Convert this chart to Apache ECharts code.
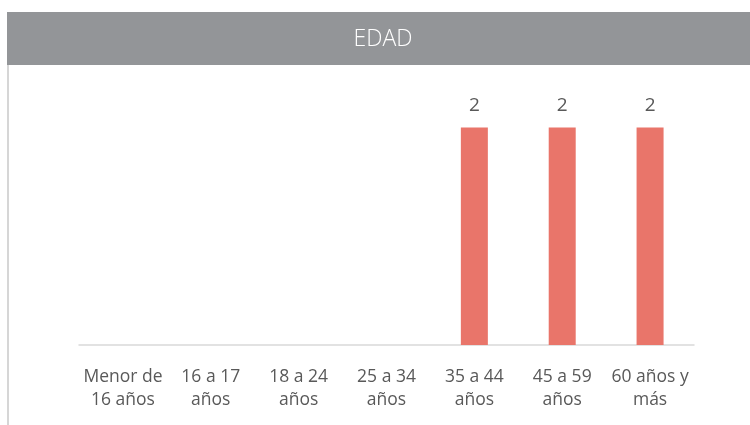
<!DOCTYPE html>
<html><head><meta charset="utf-8">
<script src="https://cdn.jsdelivr.net/npm/echarts@6/dist/echarts.min.js"></script>
<style>html,body{margin:0;padding:0;background:#fff}#c{width:750px;height:425px}</style>
</head><body><div id="c"></div>
<script>
const categories = ['Menor de\n16 años', '16 a 17\naños', '18 a 24\naños', '25 a 34\naños', '35 a 44\naños', '45 a 59\naños', '60 años y\nmás'];
const values = [null, null, null, null, 2, 2, 2];
const titleText = 'EDAD';

const chart = echarts.init(document.getElementById('c'));
chart.setOption({
  animation: false,
  graphic: [
    { type: 'rect', shape: { x: 7, y: 12, width: 743, height: 53 }, style: { fill: '#939598' } },
    { type: 'text', x: 383, y: 39, style: { text: titleText, fill: '#ffffff', font: '300 23px "Open Sans"', align: 'center', verticalAlign: 'middle' } },
    { type: 'line', shape: { x1: 8, y1: 65, x2: 8, y2: 425 }, style: { stroke: '#c8c8c8', lineWidth: 1.5 } }
  ],
  grid: { left: 79, right: 56, top: 73, bottom: 80 },
  xAxis: {
    type: 'category', data: categories,
    axisLine: { lineStyle: { color: '#d9d9d9', width: 1.5 } },
    axisTick: { show: false },
    axisLabel: { color: '#595959', fontSize: 17.5, fontFamily: 'Open Sans', lineHeight: 23, margin: 21, interval: 0 }
  },
  yAxis: { type: 'value', min: 0, max: 2.5, show: false, splitLine: { show: false } },
  series: [{
    type: 'bar', data: values, barWidth: 27,
    itemStyle: { color: '#E9756A' },
    label: { show: true, position: 'top', distance: 12, color: '#595959', fontSize: 19, fontFamily: 'Open Sans' }
  }]
});
</script></body></html>
